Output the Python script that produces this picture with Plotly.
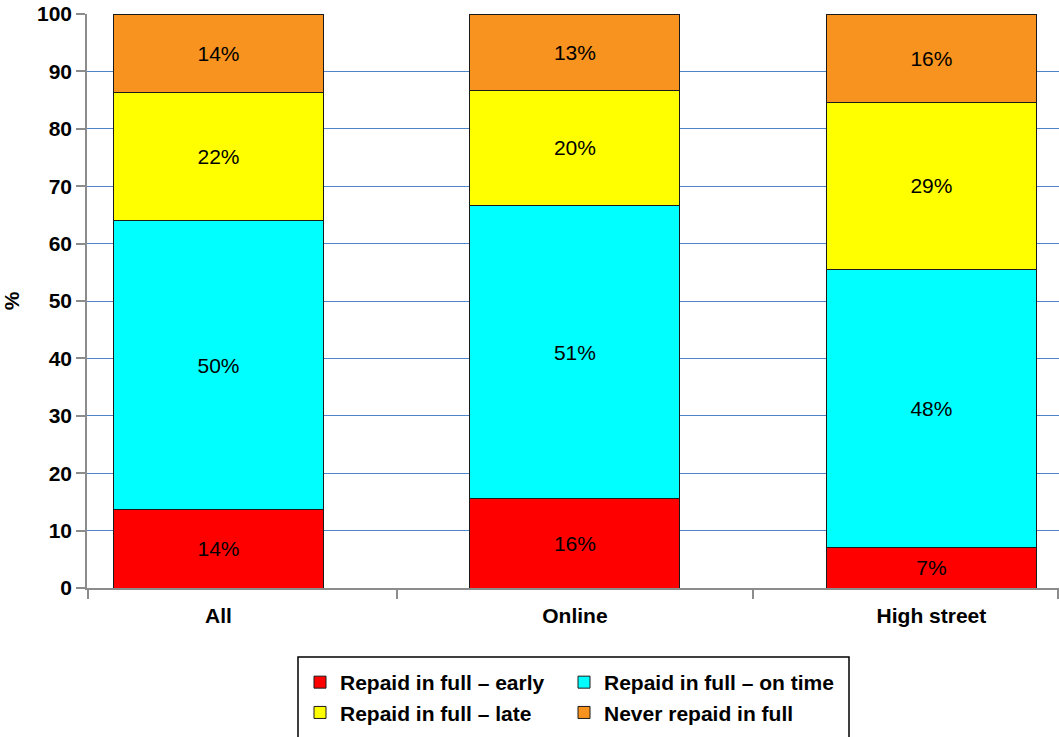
import plotly.graph_objects as go

categories = ["All", "Online", "High street"]
series_names = ["Repaid in full – early", "Repaid in full – on time",
                "Repaid in full – late", "Never repaid in full"]
early = [13.6, 15.6, 7.1]
on_time = [50.4, 51.0, 48.4]
late = [22.3, 20.15, 29.15]
never = [13.7, 13.25, 15.35]
early_labels = ["14%", "16%", "7%"]
on_time_labels = ["50%", "51%", "48%"]
late_labels = ["22%", "20%", "29%"]
never_labels = ["14%", "13%", "16%"]
y_ticks = list(range(0, 101, 10))

colors = ["#FF0000", "#00FFFF", "#FFFF00", "#F7931E"]
legend_ids = ["legend", "legend2", "legend", "legend2"]
FONT = "Liberation Sans, Arial, sans-serif"

xs = list(range(len(categories)))
fig = go.Figure()
for name, vals, labels, col, lg in zip(series_names, [early, on_time, late, never],
                                        [early_labels, on_time_labels, late_labels, never_labels],
                                        colors, legend_ids):
    fig.add_trace(go.Bar(
        x=xs, y=vals, name=name, text=labels,
        textposition="inside", insidetextanchor="middle", textangle=0,
        constraintext="none",
        textfont=dict(family=FONT, size=21, color="black"),
        marker=dict(color=col, line=dict(color="#1a1a1a", width=1)),
        width=0.589, legend=lg,
    ))

# body margin is removed by post_script, so figure coordinates = page coordinates
W, H = 1059, 737
L, T, R = 87, 14, 0
B = H - 588
pw, ph = W - L - R, H - T - B

def px_x(p):
    return (p - L) / pw

def px_y(p):
    return (H - B - p) / ph

legend_common = dict(
    orientation="v", xanchor="left", yanchor="top", bgcolor="rgba(0,0,0,0)",
    borderwidth=0, font=dict(family=FONT, size=21, color="black", weight="bold"),
    traceorder="normal",
)

fig.update_layout(
    width=W, height=H,
    margin=dict(l=L, r=R, t=T, b=B, pad=0, autoexpand=False),
    paper_bgcolor="white", plot_bgcolor="white",
    barmode="stack", showlegend=True,
    font=dict(family=FONT, size=21, color="black"),
    legend=dict(x=px_x(300), y=px_y(662), **legend_common),
    legend2=dict(x=px_x(564), y=px_y(662), **legend_common),
    xaxis=dict(
        type="linear", range=[-0.369, 2.358], automargin=False,
        tickmode="array", tickvals=xs, ticktext=categories, ticks="",
        tickfont=dict(family=FONT, size=21, color="black", weight="bold"),
        ticklabelstandoff=8,
        showline=True, linecolor="#8c8c8c", linewidth=1.5,
        showgrid=False, zeroline=False,
        minor=dict(tickmode="array", tickvals=[-0.367, 0.5, 1.5, 2.356],
                   ticks="outside", ticklen=9, tickcolor="#8c8c8c", tickwidth=1.5,
                   showgrid=False),
    ),
    yaxis=dict(
        range=[0, 100], tickmode="array", tickvals=y_ticks, automargin=False,
        ticks="outside", ticklen=9, tickcolor="#8c8c8c", tickwidth=1.5,
        tickfont=dict(family=FONT, size=21, color="black", weight="bold"),
        ticklabeloverflow="allow",
        showline=True, linecolor="#8c8c8c", linewidth=1.5,
        showgrid=True, gridcolor="#4F85C8", gridwidth=1.2, zeroline=False,
        title=dict(text="%", font=dict(family=FONT, size=21, color="black", weight="bold"),
                   standoff=19),
    ),
    shapes=[dict(type="rect", xref="paper", yref="paper",
                 x0=px_x(298), x1=px_x(849), y0=px_y(657), y1=px_y(745),
                 line=dict(color="black", width=1.5), fillcolor="rgba(0,0,0,0)")],
)

fig.write_html(
    "out.html",
    config={"displayModeBar": False},
    post_script="document.body.style.margin='0';document.body.style.overflow='hidden';",
)
